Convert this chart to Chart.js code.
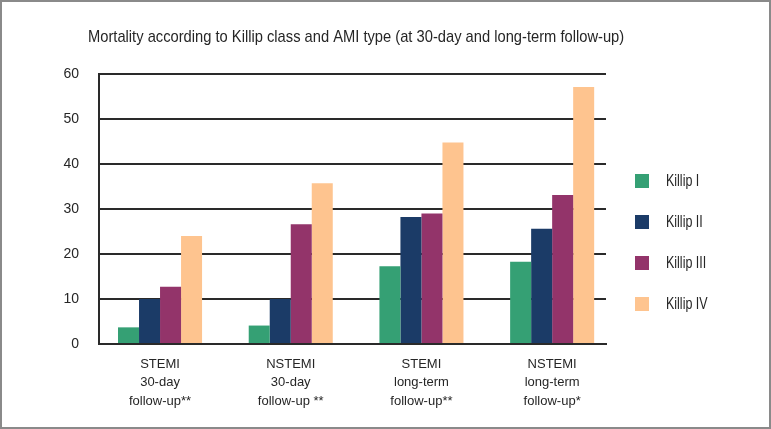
<!DOCTYPE html>
<html>
<head>
<meta charset="utf-8">
<script src="https://cdn.jsdelivr.net/npm/chart.js@4"></script>
<style>
  html, body { margin: 0; padding: 0; background: #fff; }
  #wrap { width: 771px; height: 429px; position: relative; }
</style>
</head>
<body>
<div id="wrap"><canvas id="killipChart"></canvas></div>
<script>
// Mortality (%) by Killip class and AMI type
const chartTitle = 'Mortality according to Killip class and AMI type (at 30-day and long-term follow-up)';
const categories = [
  ['STEMI', '30-day', 'follow-up**'],
  ['NSTEMI', '30-day', 'follow-up **'],
  ['STEMI', 'long-term', 'follow-up**'],
  ['NSTEMI', 'long-term', 'follow-up*']
];
const seriesNames = ['Killip I', 'Killip II', 'Killip III', 'Killip IV'];
const killip1 = [3.7, 4.1, 17.3, 18.3];
const killip2 = [10.0, 10.0, 28.2, 25.6];
const killip3 = [12.7, 26.6, 29.0, 33.1];
const killip4 = [24.0, 35.7, 44.8, 57.1];
const yTicks = [0, 10, 20, 30, 40, 50, 60];

const seriesColors = ['#35a074', '#1b3b67', '#93346a', '#fec48f'];
const textColor = '#262626';
const lineColor = '#2a2a2a';
const fontFam = "'Liberation Sans', Arial, sans-serif";

const toPoints = vals => vals.map((v, i) => ({ x: i, y: v }));

// narrow-looking text: the original uses a condensed face, squeeze horizontally
function narrowText(c, txt, x, y, size, squeeze) {
  c.save();
  c.font = size + 'px ' + fontFam;
  c.translate(x, y);
  c.scale(squeeze, 1);
  c.fillText(txt, 0, 0);
  c.restore();
}

// white page, grey frame, title and the legend column on the right
const frameAndDecor = {
  id: 'frameAndDecor',
  beforeDraw(chart) {
    const c = chart.ctx;
    c.save();
    c.fillStyle = '#fff';
    c.fillRect(0, 0, chart.width, chart.height);
    c.restore();
  },
  afterDraw(chart) {
    const c = chart.ctx;
    c.save();
    c.strokeStyle = '#8a8a8a';
    c.lineWidth = 2;
    c.strokeRect(1, 1, chart.width - 2, chart.height - 2);

    c.fillStyle = textColor;
    c.textBaseline = 'middle';
    c.textAlign = 'left';
    narrowText(c, chartTitle, 88, 37, 17, 0.865);

    chart.data.datasets.forEach((ds, i) => {
      const cy = 181 + i * 41;
      c.fillStyle = ds.backgroundColor;
      c.fillRect(635, cy - 7, 14, 14);
      c.fillStyle = textColor;
      narrowText(c, ds.label, 666, cy + 1, 16, 0.78);
    });
    c.restore();
  }
};

new Chart(document.getElementById('killipChart'), {
  type: 'bar',
  data: {
    datasets: [killip1, killip2, killip3, killip4].map((vals, i) => ({
      label: seriesNames[i],
      data: toPoints(vals),
      backgroundColor: seriesColors[i],
      borderWidth: 0,
      categoryPercentage: 0.643,
      barPercentage: 1
    }))
  },
  options: {
    responsive: true,
    maintainAspectRatio: false,
    animation: false,
    layout: { padding: { top: 74, left: 0, right: 165, bottom: 0 } },
    plugins: { legend: { display: false }, title: { display: false }, tooltip: { enabled: false } },
    scales: {
      x: {
        type: 'linear',
        offset: false,
        min: -0.467,
        max: 3.412,
        afterBuildTicks: s => { s.ticks = categories.map((_, i) => ({ value: i })); },
        afterFit: s => { s.height = 85; },
        grid: { display: false, drawTicks: false, offset: false },
        border: { display: true, color: lineColor, width: 2 },
        ticks: {
          autoSkip: false,
          maxRotation: 0,
          padding: 11,
          color: textColor,
          font: { family: fontFam, size: 13, lineHeight: 1.42 },
          callback: v => categories[v]
        }
      },
      y: {
        min: 0,
        max: 60,
        afterBuildTicks: s => { s.ticks = yTicks.map(v => ({ value: v })); },
        afterFit: s => { s.width = 99; },
        grid: { color: lineColor, lineWidth: 2, drawTicks: false },
        border: { display: true, color: lineColor, width: 2 },
        ticks: { padding: 20, color: textColor, font: { family: fontFam, size: 14 } }
      }
    }
  },
  plugins: [frameAndDecor]
});
</script>
</body>
</html>
